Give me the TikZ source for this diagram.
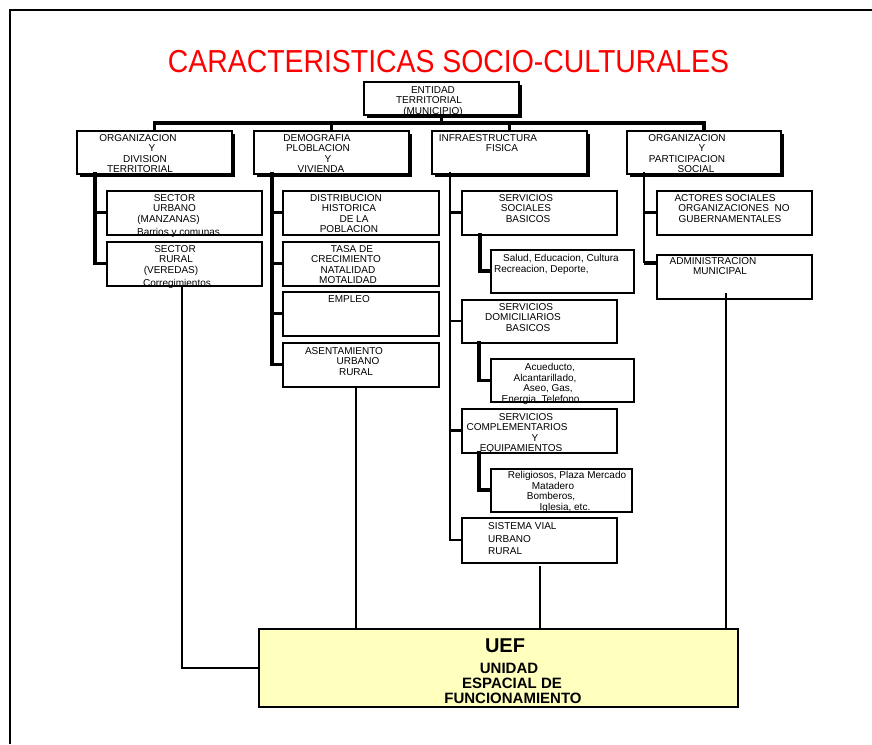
\documentclass[tikz,border=0pt]{standalone}
\usepackage{fontspec}
\setmainfont{Liberation Sans}
\usetikzlibrary{shadows}
\definecolor{uefyellow}{RGB}{255,255,190}
\definecolor{titlered}{RGB}{255,0,0}
\newcommand\sh[2]{\leavevmode\hbox{\kern#1pt#2\kern-#1pt}}
\begin{document}
\begin{tikzpicture}[x=1pt,y=-1pt,
  lvlone/.style={draw, line width=2.5pt, fill=white, inner sep=0, minimum width=155pt, minimum height=43pt,
    drop shadow={shadow xshift=2.5pt, shadow yshift=-2.5pt, fill=black, opacity=1}},
  lvltwo/.style={draw, line width=2pt, fill=white, inner sep=0, minimum width=155pt, minimum height=44pt},
  lvlthree/.style={lvltwo, minimum width=143pt, minimum height=43pt},
  txt/.style={inner sep=0, anchor=north, align=center, font=\fontsize{10}{10.4}\selectfont},
  txtl/.style={txt, anchor=north west, align=left},
  heavy/.style={line width=3.2pt},
  medium/.style={line width=2.2pt},
  thinl/.style={line width=2pt},
]
\useasboundingbox (0,0) rectangle (872,744);
% frame
\coordinate (fbl) at (10,744);
\coordinate (ftl) at (10,10);
\coordinate (ftr) at (872,10);
\draw[line width=2.5pt] (fbl) -- (ftl) -- (ftr);

% title
\node[text=titlered, font=\fontsize{28.4}{30}\selectfont, inner sep=0] (title) at (448.5,62)
  {\scalebox{1}[1.12]{CARACTERISTICAS SOCIO-CULTURALES}};

% coordinates for connectors
\coordinate (busy) at (0,123);
\coordinate (tA) at (95,172);
\coordinate (tB) at (272,172);
\coordinate (tC) at (450,172);
\coordinate (tD) at (644,172);
\coordinate (tDe) at (644,263);
\coordinate (k1) at (480,233);
\coordinate (k2) at (479,341);
\coordinate (k3) at (479,451);
\coordinate (r1) at (182,286);
\coordinate (r2) at (356,387);
\coordinate (r3) at (540,566);
\coordinate (r4) at (726,293);

% first level boxes
\path
  node[lvlone, minimum height=33pt] (ent) at (441.5,98.5) {}
  node[lvlone] (orgA) at (154.5,152.5) {}
  node[lvlone] (demB) at (331.5,152.5) {}
  node[lvlone] (infC) at (509.5,152.5) {}
  node[lvlone, minimum width=154pt] (orgD) at (704,152.5) {};

% bus
\draw[heavy] (orgA.north) -- (orgA.north |- busy) -- (orgD.north |- busy) -- (orgD.north);
\draw[heavy] (demB.north) -- (demB.north |- busy);
\draw[heavy] (infC.north) -- (infC.north |- busy);
\draw[heavy] (ent.south) -- (ent.south |- busy);

% second and third level boxes
\node[lvltwo] (sUrb) at (184,212.5) {};
\node[lvltwo] (sRur) at (184,263.5) {};
\node[lvltwo, minimum width=156pt] (dist) at (360.5,212.5) {};
\node[lvltwo, minimum width=156pt] (tasa) at (360.5,263.5) {};
\node[lvltwo, minimum width=156pt] (empl) at (360.5,313.5) {};
\node[lvltwo, minimum width=156pt] (asent) at (360.5,364.5) {};
\node[lvltwo] (ssb) at (539,212.5) {};
\node[lvltwo, minimum height=43pt] (sdb) at (539,321) {};
\node[lvltwo] (scq) at (539,430.5) {};
\node[lvltwo, minimum height=45pt] (svial) at (539,540) {};
\node[lvlthree] (salud) at (562,271) {};
\node[lvlthree] (acue) at (562,380.5) {};
\node[lvlthree, minimum width=141pt] (relig) at (561,490) {};
\node[lvltwo] (actor) at (734,212.5) {};
\node[lvltwo] (admin) at (734,276.5) {};
\node[draw, line width=2pt, fill=uefyellow, inner sep=0, minimum width=479pt, minimum height=78pt] (uef) at (498,667.5) {};

% trunks and stubs
\draw[line width=3.5pt] (tA) |- (sRur.west);
\draw[line width=3.5pt] (tA |- sUrb.west) -- (sUrb.west);
\draw[heavy] (tB) |- (asent.west);
\draw[heavy] (tB |- dist.west) -- (dist.west);
\draw[heavy] (tB |- tasa.west) -- (tasa.west);
\draw[heavy] (tB |- empl.west) -- (empl.west);
\draw[medium] (tC) |- (svial.west);
\draw[heavy] (tC |- ssb.west) -- (ssb.west);
\draw[medium] (tC |- sdb.west) -- (sdb.west);
\draw[medium] (tC |- scq.west) -- (scq.west);
\draw[medium] (tD) -- (tDe);
\draw[heavy] (tDe) -- (tDe -| admin.west);
\draw[heavy] (tD |- actor.west) -- (actor.west);
\draw[heavy] (k1) |- (salud.west);
\draw[heavy] (k2) |- (acue.west);
\draw[heavy] (k3) |- (relig.west);

% to UEF
\draw[thinl] (r1) |- (uef.west);
\draw[thinl] (r2) -- (r2 |- uef.north);
\draw[thinl] (r3) -- (r3 |- uef.north);
\draw[thinl] (r4) -- (r4 |- uef.north);

% texts
\node[txt] (txEnt) at (432,86.4) {\sh{1}{ENTIDAD}\\\sh{-3}{TERRITORIAL}\\\sh{1}{(MUNICIPIO)}};
\node[txt] (txA) at (144,134.4) {\sh{-6}{ORGANIZACION}\\\sh{8}{Y}\\\sh{1}{DIVISION}\\\sh{-4}{TERRITORIAL}};
\node[txt] (txB) at (321,134.4) {\sh{-4}{DEMOGRAFIA}\\\sh{-3}{PLOBLACION}\\\sh{7}{Y}\\VIVIENDA};
\node[txt] (txC) at (495,134.4) {\sh{-7}{INFRAESTRUCTURA}\\\sh{7}{FISICA}};
\node[txt] (txD) at (693,134.4) {\sh{-6}{ORGANIZACION}\\\sh{9}{Y}\\\sh{-6}{PARTICIPACION}\\\sh{3}{SOCIAL}};
\node[txt] (txUrb) at (174.5,194.4) {SECTOR\\URBANO\\\sh{-6}{(MANZANAS)}\\[2.6pt]\sh{4}{Barrios y comunas}};
\node[txt] (txRur) at (175,245.4) {SECTOR\\\sh{1}{RURAL}\\\sh{-4}{(VEREDAS)}\\[2.6pt]\sh{2}{Corregimientos}};
\node[txt] (txDist) at (349,194.4) {\sh{-3}{DISTRIBUCION}\\HISTORICA\\\sh{5}{DE LA}\\POBLACION};
\node[txt] (txTasa) at (348,245.4) {\sh{4}{TASA DE}\\\sh{-2}{CRECIMIENTO}\\NATALIDAD\\MOTALIDAD};
\node[txt] (txEmpl) at (349,295.4) {EMPLEO};
\node[txt] (txAsent) at (352,347.4) {\sh{-8}{ASENTAMIENTO}\\\sh{6}{URBANO}\\\sh{4}{RURAL}};
\node[txt] (txSsb) at (527,194.4) {\sh{-1}{SERVICIOS}\\\sh{-1}{SOCIALES}\\\sh{1}{BASICOS}};
\node[txt] (txSdb) at (526,303.4) {SERVICIOS\\\sh{-3}{DOMICILIARIOS}\\\sh{2}{BASICOS}};
\node[txt] (txScq) at (525,413.4) {\sh{1}{SERVICIOS}\\\sh{-8}{COMPLEMENTARIOS}\\\sh{10}{Y}\\\sh{-4}{EQUIPAMIENTOS}};
\node[txtl, font=\fontsize{10}{12.5}\selectfont] (txVial) at (488,522.4) {SISTEMA VIAL\\URBANO\\RURAL};
\node[txtl] (txSalud) at (494,254.4) {\hspace*{9pt}Salud, Educacion, Cultura\\Recreacion, Deporte,};
\node[txt] (txAcue) at (546,363.4) {\sh{4}{Acueducto,}\\\sh{-1}{Alcantarillado,}\\\sh{2}{Aseo, Gas,}\\\sh{-4}{Energia, Telefono.}};
\node[txt] (txRelig) at (559,471.4) {\sh{8}{Religiosos, Plaza Mercado}\\\sh{-6}{Matadero}\\\sh{-8}{Bomberos,}\\\sh{6}{Iglesia, etc.}};
\node[txt] (txActor) at (730,194.4) {\sh{-5}{ACTORES SOCIALES}\\\sh{4}{ORGANIZACIONES\ \ NO}\\GUBERNAMENTALES};
\node[txt] (txAdmin) at (716.5,257.4) {\sh{-3.5}{ADMINISTRACION}\\\sh{3.5}{MUNICIPAL}};
\node[font=\bfseries\fontsize{20}{22}\selectfont, inner sep=0] (txUef) at (505,646) {UEF};
\node[txt, font=\bfseries\fontsize{15}{15}\selectfont] (txUefB) at (511,662.6) {\sh{-2}{UNIDAD}\\\sh{1}{ESPACIAL DE}\\\sh{2}{FUNCIONAMIENTO}};
\end{tikzpicture}
\end{document}
